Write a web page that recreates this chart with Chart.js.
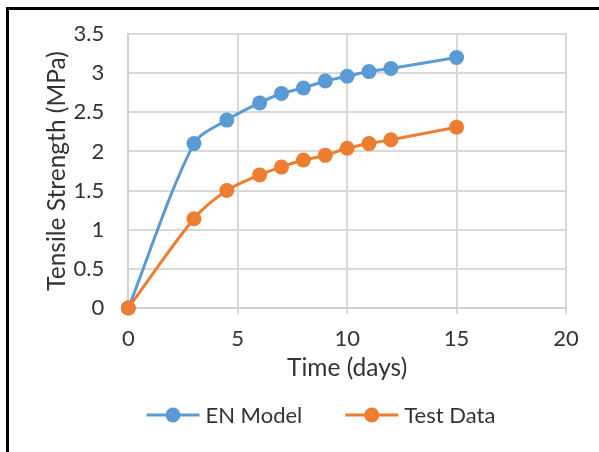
<!DOCTYPE html>
<html>
<head>
<meta charset="utf-8">
<script src="https://cdn.jsdelivr.net/npm/chart.js@4/dist/chart.umd.min.js"></script>
<style>
  html, body { margin: 0; padding: 0; background: #fff; overflow: hidden; }
  #wrap { position: absolute; left: 0; top: 0; width: 599px; height: 452px; }
  #frame { position: absolute; left: 6px; top: 7px; width: 700px; height: 600px;
           border-left: 3px solid #000; border-top: 3px solid #000; pointer-events: none; }
</style>
</head>
<body>
<div id="wrap"><canvas id="c" width="599" height="452"></canvas></div>
<div id="frame"></div>
<script>
const days = [0, 3, 4.5, 6, 7, 8, 9, 10, 11, 12, 15];
const enModel = [0, 2.1, 2.4, 2.62, 2.74, 2.81, 2.9, 2.96, 3.02, 3.06, 3.2];
const testData = [0, 1.14, 1.5, 1.7, 1.8, 1.89, 1.95, 2.04, 2.1, 2.15, 2.31];
const seriesNames = ['EN Model', 'Test Data'];
const xTickValues = [0, 5, 10, 15, 20];
const yTickValues = [0, 0.5, 1, 1.5, 2, 2.5, 3, 3.5];

const FONT = 'Lato, "Open Sans", sans-serif';
const TEXT = '#333333';
const BLUE = '#5b9bd5';
const ORANGE = '#ed7d31';
const TICK_SIZE = 22;
const TITLE_SIZE = 24.5;

const legendPlugin = {
  id: 'excelLegend',
  afterDraw(chart) {
    const ctx = chart.ctx;
    ctx.save();
    ctx.font = TICK_SIZE + 'px ' + FONT;
    const lineLen = 53, gapText = 6, gapItem = 43;
    const items = chart.data.datasets.map(ds => ({
      label: ds.label, color: ds.borderColor, w: ctx.measureText(ds.label).width
    }));
    let total = 0;
    items.forEach((it, i) => { total += lineLen + gapText + it.w + (i ? gapItem : 0); });
    const cx = chart.chartArea.left + 0.44 * (chart.chartArea.right - chart.chartArea.left);
    let x = cx - total / 2;
    const y = 415;
    items.forEach(it => {
      ctx.strokeStyle = it.color; ctx.lineWidth = 3;
      ctx.beginPath(); ctx.moveTo(x, y); ctx.lineTo(x + lineLen, y); ctx.stroke();
      ctx.fillStyle = it.color;
      ctx.beginPath(); ctx.arc(x + lineLen / 2, y, 7.5, 0, Math.PI * 2); ctx.fill();
      ctx.fillStyle = TEXT; ctx.textBaseline = 'middle'; ctx.textAlign = 'left';
      ctx.fillText(it.label, x + lineLen + gapText, y + 1);
      x += lineLen + gapText + it.w + gapItem;
    });
    ctx.restore();
  }
};

const toPoints = ys => days.map((d, i) => ({ x: d, y: ys[i] }));

new Chart(document.getElementById('c'), {
  type: 'line',
  data: {
    datasets: [
      { label: seriesNames[0], data: toPoints(enModel), borderColor: BLUE, backgroundColor: BLUE,
        pointBackgroundColor: BLUE, pointBorderWidth: 0, pointRadius: 7.5, borderWidth: 3,
        tension: 0.3, order: 2, clip: false },
      { label: seriesNames[1], data: toPoints(testData), borderColor: ORANGE, backgroundColor: ORANGE,
        pointBackgroundColor: ORANGE, pointBorderWidth: 0, pointRadius: 7.5, borderWidth: 3,
        tension: 0.3, order: 1, clip: false }
    ]
  },
  options: {
    responsive: false,
    animation: false,
    layout: { padding: { left: 10, right: 33, top: 34, bottom: 64 } },
    plugins: { legend: { display: false }, tooltip: { enabled: false } },
    scales: {
      x: {
        type: 'linear', min: 0, max: 20,
        afterBuildTicks: s => { s.ticks = xTickValues.map(v => ({ value: v })); },
        afterFit: s => { s.height = 80; },
        grid: { color: '#d9d9d9', lineWidth: 2, tickLength: 6, drawTicks: true },
        border: { color: '#d0d0d0', width: 2 },
        ticks: { color: TEXT, font: { family: FONT, size: TICK_SIZE }, padding: 12, maxRotation: 0,
                 callback: v => String(v) },
        title: { display: true, text: 'Time (days)', color: TEXT,
                 font: { family: FONT, size: TITLE_SIZE }, padding: { top: 0, bottom: 5 } }
      },
      y: {
        type: 'linear', min: 0, max: 3.5,
        afterBuildTicks: s => { s.ticks = yTickValues.map(v => ({ value: v })); },
        afterFit: s => { s.width = 118.3; s.paddingTop = 0; },
        grid: { color: '#d9d9d9', lineWidth: 2, drawTicks: false },
        border: { color: '#d0d0d0', width: 2 },
        ticks: { color: TEXT, font: { family: FONT, size: TICK_SIZE, lineHeight: 0.9 }, padding: 24,
                 callback: v => String(v) },
        title: { display: true, text: 'Tensile Strength (MPa)', color: TEXT,
                 font: { family: FONT, size: TITLE_SIZE }, padding: { top: 32, bottom: 0 } }
      }
    }
  },
  plugins: [legendPlugin]
});
</script>
</body>
</html>
